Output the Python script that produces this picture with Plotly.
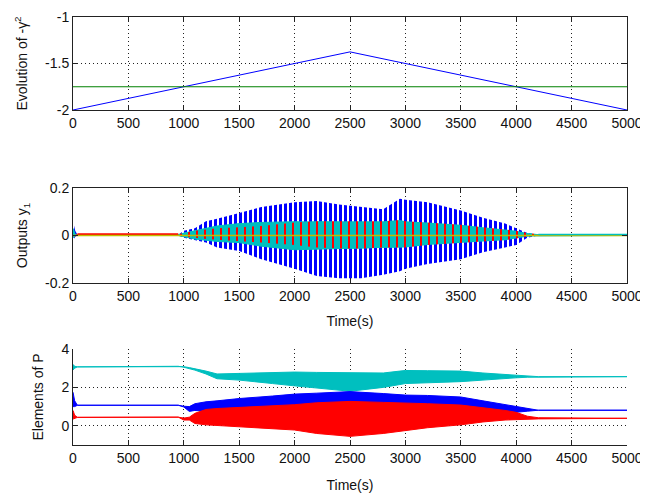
import plotly.graph_objects as go

# ---------------- data ----------------
# Top panel: evolution of -gamma^2 and the fixed bound
T_GAMMA = [0, 2500, 5000]
NEG_GAMMA_SQ = [-2.0, -1.375, -2.0]
T_BOUND = [0, 5000]
BOUND = [-1.75, -1.75]

# Middle panel: envelopes of the oscillating outputs y1
T_OUT = [0, 20, 40, 950, 1000, 1100, 1200, 1300, 1500, 1700, 2000, 2200, 2400,
         2600, 2800, 2950, 3000, 3200, 3500, 3700, 3900, 4000, 4100, 4200, 5000]
Y_BLUE_HI = [0.06, 0.02, 0.003, 0.003, 0.02, 0.03, 0.06, 0.07, 0.095, 0.12, 0.14, 0.145, 0.13,
             0.12, 0.11, 0.155, 0.15, 0.14, 0.105, 0.075, 0.05, 0.03, 0.01, 0.003, 0.003]
Y_BLUE_LO = [-0.02, -0.005, 0.0, 0.0, -0.01, -0.02, -0.03, -0.05, -0.065, -0.1, -0.14, -0.17, -0.18,
             -0.18, -0.165, -0.15, -0.14, -0.12, -0.1, -0.07, -0.05, -0.04, -0.01, 0.0, 0.0]
Y_CYAN_HI = [0.03, 0.005, 0.003, 0.003, 0.01, 0.02, 0.03, 0.04, 0.05, 0.055, 0.058, 0.058, 0.055,
             0.053, 0.05, 0.048, 0.045, 0.04, 0.03, 0.025, 0.015, 0.01, 0.006, 0.004, 0.004]
Y_CYAN_LO = [-0.01, 0.0, 0.0, 0.0, -0.005, -0.015, -0.02, -0.025, -0.03, -0.045, -0.06, -0.06, -0.055,
             -0.053, -0.05, -0.048, -0.045, -0.035, -0.02, -0.015, -0.01, -0.005, -0.002, 0.0, 0.0]
Y_RED_HI = [0.02, 0.005, 0.005, 0.005, 0.01, 0.02, 0.025, 0.03, 0.035, 0.04, 0.055, 0.06, 0.06,
            0.06, 0.06, 0.065, 0.06, 0.055, 0.045, 0.035, 0.025, 0.02, 0.01, 0.005, 0.005]
Y_RED_LO = [-0.005, 0.002, 0.002, 0.002, -0.005, -0.01, -0.015, -0.02, -0.025, -0.03, -0.04, -0.05, -0.055,
            -0.055, -0.05, -0.05, -0.05, -0.04, -0.03, -0.025, -0.02, -0.015, -0.005, 0.002, 0.002]
T_RED_FLAT = [40, 950]
Y_RED_FLAT = [0.005, 0.005]
T_CYAN_FLAT = [4200, 5000]
Y_CYAN_FLAT = [0.004, 0.004]
T_OLIVE = [0, 5000]
Y_OLIVE = [0.0, 0.0]

# Bottom panel: envelopes of the elements of P
T_P = [0, 15, 40, 950, 1000, 1050, 1100, 1200, 1300, 1500, 1800, 2000, 2200,
       2500, 2800, 2950, 3000, 3200, 3500, 3700, 3900, 4000, 4100, 4200, 5000]
P_CYAN_HI = [3.2, 3.1, 3.07, 3.1, 3.08, 3.03, 2.98, 2.85, 2.7, 2.72, 2.78, 2.8, 2.78,
             2.75, 2.75, 2.85, 2.88, 2.87, 2.85, 2.75, 2.68, 2.62, 2.58, 2.56, 2.56]
P_CYAN_LO = [2.9, 3.0, 3.07, 3.1, 3.05, 2.98, 2.9, 2.7, 2.45, 2.38, 2.2, 2.08, 1.95,
             1.8, 2.0, 2.15, 2.2, 2.25, 2.3, 2.38, 2.45, 2.5, 2.53, 2.56, 2.56]
P_BLUE_HI = [1.75, 1.3, 1.07, 1.07, 1.02, 1.0, 1.15, 1.25, 1.3, 1.42, 1.55, 1.65, 1.7,
             1.78, 1.68, 1.62, 1.6, 1.58, 1.5, 1.3, 1.1, 1.0, 0.9, 0.81, 0.81]
P_BLUE_LO = [1.0, 1.0, 1.07, 1.07, 0.98, 0.75, 0.8, 0.75, 0.65, 0.55, 0.4, 0.3, 0.1,
             -0.1, -0.1, 0.0, 0.0, 0.15, 0.3, 0.5, 0.65, 0.72, 0.76, 0.81, 0.81]
P_RED_HI = [0.8, 0.55, 0.44, 0.45, 0.4, 0.45, 0.65, 0.85, 0.9, 0.95, 1.05, 1.1, 1.2,
            1.27, 1.22, 1.2, 1.18, 1.15, 1.08, 0.95, 0.8, 0.7, 0.5, 0.42, 0.39]
P_RED_LO = [0.35, 0.4, 0.44, 0.45, 0.3, 0.3, 0.12, 0.05, 0.0, -0.05, -0.15, -0.22, -0.4,
            -0.55, -0.4, -0.3, -0.25, -0.1, 0.05, 0.2, 0.3, 0.35, 0.34, 0.36, 0.39]

X_TICKS = [0, 500, 1000, 1500, 2000, 2500, 3000, 3500, 4000, 4500, 5000]

BLUE = "rgb(0,0,255)"
RED = "rgb(255,0,0)"
CYAN = "rgb(0,191,191)"
GREEN = "rgb(0,128,0)"
OLIVE = "rgb(191,191,0)"


def band(t, hi, lo, color, xa, ya, pattern=False, lw=1.0, solidity=0.6, size=3, bg="white"):
    xs = list(t) + list(t)[::-1]
    ys = list(hi) + list(lo)[::-1]
    kw = dict(x=xs, y=ys, mode="lines", fill="toself", xaxis=xa, yaxis=ya,
              showlegend=False, hoverinfo="skip")
    if pattern:
        kw.update(line=dict(width=0, color=color), fillcolor=bg,
                  fillpattern=dict(shape="|", fgcolor=color, bgcolor=bg,
                                   fgopacity=1, fillmode="replace",
                                   size=size, solidity=solidity))
    else:
        kw.update(line=dict(width=lw, color=color), fillcolor=color)
    return go.Scatter(**kw)


fig = go.Figure()

# top
fig.add_trace(go.Scatter(x=T_GAMMA, y=NEG_GAMMA_SQ, mode="lines", line=dict(color=BLUE, width=1),
                         xaxis="x", yaxis="y", showlegend=False))
fig.add_trace(go.Scatter(x=T_BOUND, y=BOUND, mode="lines", line=dict(color=GREEN, width=1),
                         xaxis="x", yaxis="y", showlegend=False))

# middle
fig.add_trace(band(T_OUT, Y_BLUE_HI, Y_BLUE_LO, BLUE, "x2", "y2", pattern=True, solidity=0.6, size=5))
fig.add_trace(band(T_OUT, Y_CYAN_HI, Y_CYAN_LO, CYAN, "x2", "y2", lw=1))
fig.add_trace(band(T_OUT, Y_RED_HI, Y_RED_LO, RED, "x2", "y2", pattern=True, solidity=0.25,
                   size=8, bg=CYAN))
fig.add_trace(go.Scatter(x=T_RED_FLAT, y=Y_RED_FLAT, mode="lines", line=dict(color=RED, width=2),
                         xaxis="x2", yaxis="y2", showlegend=False))
fig.add_trace(go.Scatter(x=T_OLIVE, y=Y_OLIVE, mode="lines", line=dict(color=OLIVE, width=1.5),
                         xaxis="x2", yaxis="y2", showlegend=False))
fig.add_trace(go.Scatter(x=T_CYAN_FLAT, y=Y_CYAN_FLAT, mode="lines", line=dict(color=CYAN, width=1.5),
                         xaxis="x2", yaxis="y2", showlegend=False))

# bottom
fig.add_trace(band(T_P, P_CYAN_HI, P_CYAN_LO, CYAN, "x3", "y3"))
fig.add_trace(band(T_P, P_BLUE_HI, P_BLUE_LO, BLUE, "x3", "y3"))
fig.add_trace(band(T_P, P_RED_HI, P_RED_LO, RED, "x3", "y3"))

FONT = dict(family="Liberation Sans, Arial, sans-serif", size=14, color="#111")
GRID_DASH = "1px,3px"
common_x = dict(range=[0, 5000], tickvals=X_TICKS, ticks="inside", ticklen=5, tickcolor="#222",
                showline=True, linecolor="#222", linewidth=1, showgrid=True,
                gridcolor="#222", griddash=GRID_DASH, gridwidth=1, zeroline=False,
                tickfont=FONT, automargin=False)
common_y = dict(ticks="inside", ticklen=5, tickcolor="#222", showline=True, linecolor="#222",
                linewidth=1, showgrid=True, gridcolor="#222", griddash=GRID_DASH, gridwidth=1,
                zeroline=False, tickfont=FONT, automargin=False)

# the page body adds an 8px margin, so the figure is sized 640x487
fig.update_layout(
    width=640, height=487,
    margin=dict(l=65, r=21, t=9, b=50),
    paper_bgcolor="white", plot_bgcolor="white",
    font=FONT,
    showlegend=False,
    xaxis=dict(domain=[0, 1], anchor="y", mirror="allticks", **common_x),
    yaxis=dict(domain=[0.7827, 1.0], anchor="x", range=[-2, -1], tickvals=[-2, -1.5, -1],
               ticktext=["-2", "-1.5", "-1"], mirror="allticks",
               title=dict(text="Evolution of -γ<sup>2</sup>", font=FONT, standoff=14), **common_y),
    xaxis2=dict(domain=[0, 1], anchor="y2", mirror="allticks",
                title=dict(text="Time(s)", font=FONT, standoff=13), **common_x),
    yaxis2=dict(domain=[0.3785, 0.6005], anchor="x2", range=[-0.2, 0.2], tickvals=[-0.2, 0, 0.2],
                ticktext=["-0.2", "0", "0.2"], mirror="allticks",
                title=dict(text="Outputs y<sub>1</sub>", font=FONT, standoff=14), **common_y),
    xaxis3=dict(domain=[0, 1], anchor="y3",
                title=dict(text="Time(s)", font=FONT, standoff=15), **common_x),
    yaxis3=dict(domain=[0.0, 0.2243], anchor="x3", range=[-1, 4], tickvals=[0, 2, 4],
                ticktext=["0", "2", "4"],
                title=dict(text="Elements of P", font=FONT, standoff=14), **common_y),
)

fig.write_html("out.html")
